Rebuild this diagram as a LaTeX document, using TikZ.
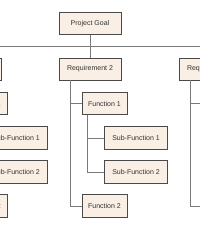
\documentclass[tikz,border=0pt]{standalone}
\usepackage{fontspec}
\setmainfont{Liberation Sans}
\usepackage{xcolor}
\definecolor{boxfill}{HTML}{FAEFE4}
\definecolor{boxline}{HTML}{4A4A4A}
\definecolor{wire}{HTML}{7A7A7A}
\tikzset{
  item/.style={draw=boxline, line width=0.9pt, fill=boxfill, text=black!80,
    font=\fontsize{7}{8}\selectfont, inner sep=0pt, minimum height=22.5pt},
  link/.style={draw=wire, line width=0.9pt}
}
\begin{document}
\begin{tikzpicture}[x=1pt, y=-1pt]
    \useasboundingbox (0,0) rectangle (200,230);
    \clip (0,0) rectangle (200,230);
    % top goal
    \node[item, minimum width=62pt] (goal) at (90,23.5) {Project Goal};
    \coordinate (bus) at (90,46);
    \draw[link] (goal.south) -- (bus);
    \draw[link] (-30,46) -- (210,46);
    % one column per requirement
    \foreach \i/\off in {1/-120, 2/0, 3/120} {
        \node[item, minimum width=62pt, minimum height=22pt] (r\i) at (90+\off,69) {Requirement \i};
        \node[item, minimum width=45pt] (fa\i) at (104.5+\off,103.5) {Function 1};
        \node[item, minimum width=63pt] (sa\i) at (136+\off,138) {Sub-Function 1};
        \node[item, minimum width=63pt] (sb\i) at (136+\off,172) {Sub-Function 2};
        \node[item, minimum width=45pt] (fb\i) at (104.5+\off,206) {Function 2};
        \coordinate (rt\i) at (70.3+\off,46);
        \coordinate (tr\i) at (70.3+\off,80);
        \coordinate (tf\i) at (87.7+\off,115);
        \draw[link] (r\i.north) -- (r\i.north |- rt\i);
        \draw[link] (tr\i) |- (fa\i.west);
        \draw[link] (tr\i) |- (fb\i.west);
        \draw[link] (tf\i) |- (sa\i.west);
        \draw[link] (tf\i) |- (sb\i.west);
    }
\end{tikzpicture}
\end{document}
